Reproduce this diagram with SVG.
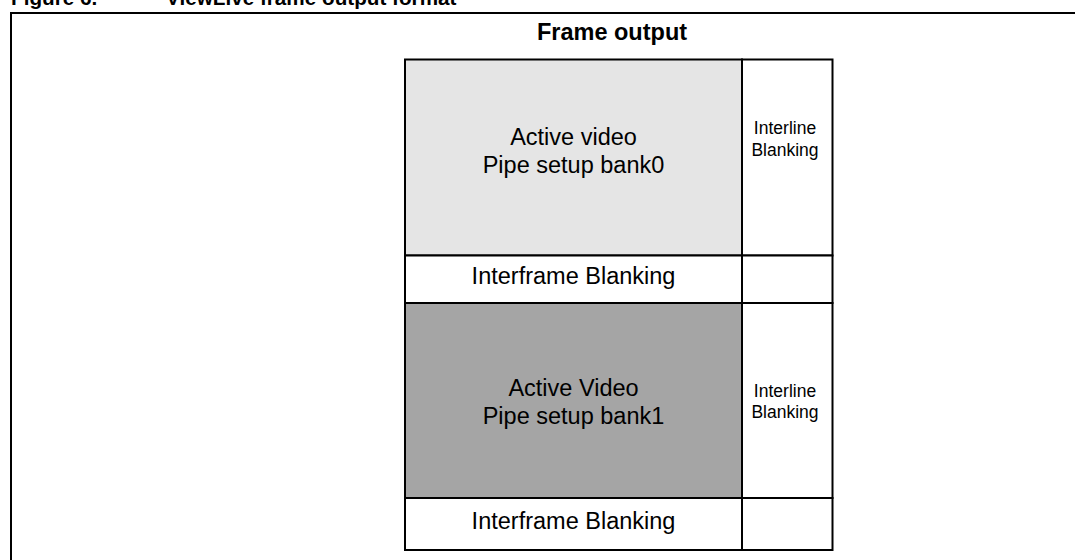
<svg xmlns="http://www.w3.org/2000/svg" width="1075" height="560" viewBox="0 0 1075 560">
<style>
.b{font-family:"Liberation Sans",Arial,sans-serif;font-weight:bold;fill:#000}
.t{font-family:"Liberation Sans",Arial,sans-serif;fill:#000;text-anchor:middle}
.big{font-size:23.5px}
.sm{font-size:17.5px}
.cell{stroke:#000;stroke-width:2}
</style>
<rect width="1075" height="560" fill="#fff"/>
<text class="b" x="11" y="5" font-size="20.7">Figure 6.</text>
<text class="b" x="166" y="5" font-size="20.7">ViewLive frame output format</text>
<rect x="11" y="13" width="1066" height="560" fill="none" stroke="#000" stroke-width="2"/>
<text class="b" x="612" y="40" font-size="23.5" text-anchor="middle">Frame output</text>
<g id="bank0">
<rect class="cell" x="405" y="59.5" width="337" height="196" fill="#e5e5e5"/>
<text class="t big" x="573.5" y="145">Active video</text>
<text class="t big" x="573.5" y="173">Pipe setup bank0</text>
</g>
<g id="interline0">
<rect class="cell" x="742" y="59.5" width="90.5" height="196" fill="#fff"/>
<text class="t sm" x="785" y="134">Interline</text>
<text class="t sm" x="785" y="155.5">Blanking</text>
</g>
<g id="interframe0">
<rect class="cell" x="405" y="255.5" width="337" height="47.5" fill="#fff"/>
<text class="t big" x="573.5" y="284">Interframe Blanking</text>
</g>
<g id="corner0">
<rect class="cell" x="742" y="255.5" width="90.5" height="47.5" fill="#fff"/>
</g>
<g id="bank1">
<rect class="cell" x="405" y="303" width="337" height="195" fill="#a5a5a5"/>
<text class="t big" x="573.5" y="395.5">Active Video</text>
<text class="t big" x="573.5" y="423.5">Pipe setup bank1</text>
</g>
<g id="interline1">
<rect class="cell" x="742" y="303" width="90.5" height="195" fill="#fff"/>
<text class="t sm" x="785" y="396.5">Interline</text>
<text class="t sm" x="785" y="417.5">Blanking</text>
</g>
<g id="interframe1">
<rect class="cell" x="405" y="498" width="337" height="52" fill="#fff"/>
<text class="t big" x="573.5" y="529">Interframe Blanking</text>
</g>
<g id="corner1">
<rect class="cell" x="742" y="498" width="90.5" height="52" fill="#fff"/>
</g>
<g id="connectors"></g>
</svg>
